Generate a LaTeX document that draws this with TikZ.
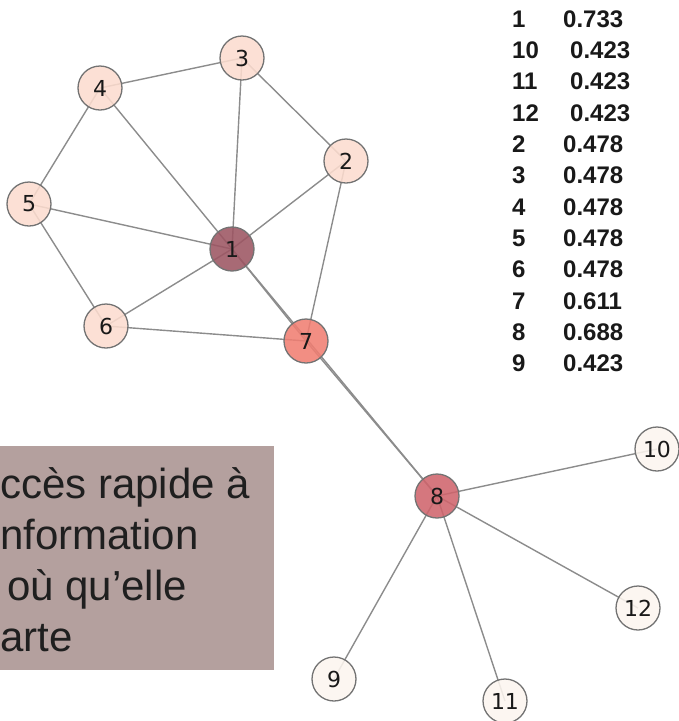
\documentclass[tikz,border=0pt]{standalone}
\usepackage{fontspec}
\setmainfont{Liberation Sans}
\newfontfamily\labelfont{DejaVu Sans}
\usetikzlibrary{backgrounds}

\definecolor{central}{HTML}{9C5562}
\definecolor{high}{HTML}{CF646C}
\definecolor{mid}{HTML}{F07E72}
\definecolor{low}{HTML}{FCDCCF}
\definecolor{leaf}{HTML}{FCF5EF}
\definecolor{notefill}{HTML}{B4A09E}

\begin{document}
\begin{tikzpicture}[
x=1pt, y=-1pt,
vertex/.style={
	circle, draw=black!55, line width=1.3pt,
	minimum size=44pt, inner sep=0pt,
	fill opacity=0.88, text opacity=1, text=black!90,
	font=\labelfont\fontsize{22}{24}\selectfont
},
edge/.style={draw=black!45, line width=1.4pt},
score/.style={anchor=base west, inner sep=0pt, text=black!90,
	font=\fontsize{24}{28}\selectfont\bfseries}
]
\useasboundingbox (0,0) rectangle (679,721);

\node[vertex, fill=central] (1) at (232,249) {1};
\node[vertex, fill=low] (2) at (346,161) {2};
\node[vertex, fill=low] (3) at (242,58) {3};
\node[vertex, fill=low] (4) at (100,88) {4};
\node[vertex, fill=low] (5) at (29,204) {5};
\node[vertex, fill=low] (6) at (106,326) {6};
\node[vertex, fill=mid] (7) at (306,341) {7};
\node[vertex, fill=high] (8) at (437,496) {8};
\node[vertex, fill=leaf] (9) at (334,679) {9};
\node[vertex, fill=leaf] (10) at (657,449) {10};
\node[vertex, fill=leaf] (11) at (505,701) {11};
\node[vertex, fill=leaf] (12) at (638,608) {12};

\begin{scope}[on background layer]
\foreach \a/\b in {1/2,1/3,1/4,1/5,1/6,1/7,1/8,2/3,3/4,4/5,5/6,6/7,2/7,7/8,8/9,8/10,8/11,8/12}
{
	\draw[edge] (\a.center) -- (\b.center);
}
\end{scope}

% closeness table
\foreach \k/\v/\dx [count=\i from 0] in {1/0.733/0,10/0.423/7,11/0.423/7,12/0.423/7,2/0.478/0,3/0.478/0,4/0.478/0,5/0.478/0,6/0.478/0,7/0.611/0,8/0.688/0,9/0.423/0}
{
	\node[score] (k\k) at (512,{27.3+31.3*\i}) {\k};
	\node[score] (v\k) at ({563+\dx},{27.3+31.3*\i}) {\v};
}

\node (note) [fill=notefill, anchor=north west, inner sep=0pt,
	minimum width=274pt, minimum height=224pt] at (0,446) {};
\node (msg) [anchor=north west, align=left, inner sep=0pt, text=black!88,
	font=\fontsize{42}{51}\selectfont] at (0,467)
	{ccès rapide à\\nformation\\\hspace{7pt}où qu’elle\\arte};
\end{tikzpicture}
\end{document}
